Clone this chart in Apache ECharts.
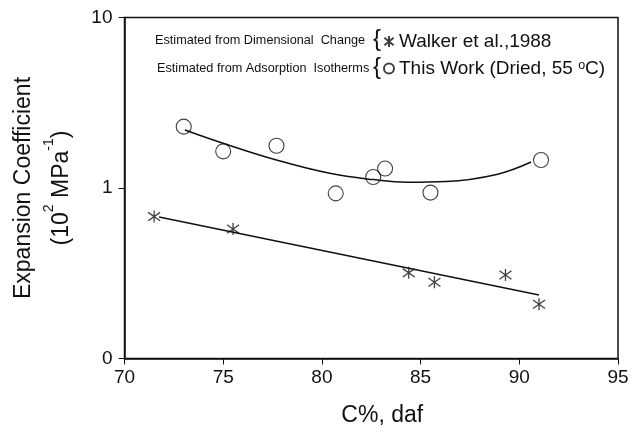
<!DOCTYPE html>
<html>
<head>
<meta charset="utf-8">
<script src="https://cdn.jsdelivr.net/npm/echarts@6/dist/echarts.min.js"></script>
<style>
  html, body { margin: 0; padding: 0; background: #fff; }
  #chart { width: 632px; height: 439px; }
</style>
</head>
<body>
<div id="chart"></div>
<script>
// Walker et al., 1988 (dimensional change)
const walkerC = [71.5, 75.5, 84.4, 85.7, 89.3, 91.0];
const walkerCoef = [0.68, 0.575, 0.318, 0.28, 0.309, 0.208];
// this work (adsorption isotherms)
const thisWorkC = [73.0, 75.0, 77.7, 80.7, 82.6, 83.2, 85.5, 91.1];
const thisWorkCoef = [2.29, 1.64, 1.77, 0.93, 1.16, 1.30, 0.94, 1.46];
// trend lines
const walkerFitC = [71.75, 91.0];
const walkerFitCoef = [0.676, 0.236];
const thisFitC = [73.06, 75.0, 77.7, 80.4, 82.6, 84.3, 86.3, 88.85, 90.6];
const thisFitCoef = [2.19, 1.83, 1.46, 1.22, 1.12, 1.08, 1.09, 1.20, 1.42];

const xTicks = [70, 75, 80, 85, 90, 95];

const zip = (a, b) => a.map((v, i) => [v, b[i]]);
const FONT = 'Liberation Sans';
const starPath = 'path://M6 0 L6 12 M1 1.8 L11 10.2 M1 10.2 L11 1.8';

const chart = echarts.init(document.getElementById('chart'));

const option = {
  backgroundColor: '#fff',
  textStyle: { fontFamily: FONT },
  grid: {
    left: 124.5,
    right: 14,
    top: 17.5,
    bottom: 80.5,
    outerBoundsMode: 'none',
    show: true,
    borderColor: '#111',
    borderWidth: 1.5
  },
  legend: {
    data: ['Walker et al.,1988', 'This Work (Dried, 55 oC)'],
    orient: 'vertical',
    left: 378,
    top: 27,
    itemGap: 8,
    itemWidth: 10,
    itemHeight: 11,
    formatter: function (name) {
      return name === 'This Work (Dried, 55 oC)' ? 'This Work (Dried, 55 {sup|o}C)' : name;
    },
    textStyle: {
      fontFamily: FONT,
      fontSize: 19,
      color: '#111',
      rich: {
        sup: { fontSize: 12.5, verticalAlign: 'top', fontFamily: FONT, color: '#111' }
      }
    }
  },
  graphic: [
    { type: 'text', left: 155, top: 34, style: { text: 'Estimated from Dimensional  Change', fontSize: 12.7, fontFamily: FONT, fill: '#111' } },
    { type: 'text', left: 157, top: 62, style: { text: 'Estimated from Adsorption  Isotherms', fontSize: 12.7, fontFamily: FONT, fill: '#111' } },
    { type: 'text', left: 373, top: 27, style: { text: '{', fontSize: 24, fontFamily: FONT, fill: '#111' } },
    { type: 'text', left: 373, top: 55, style: { text: '{', fontSize: 24, fontFamily: FONT, fill: '#111' } }
  ],
  xAxis: {
    type: 'value',
    min: 70,
    max: 95,
    interval: 5,
    name: 'C%, daf',
    nameLocation: 'middle',
    nameGap: 46,
    nameTextStyle: { fontSize: 23, color: '#111', fontFamily: FONT, padding: [0, 0, 0, 22] },
    axisLine: { lineStyle: { color: '#111', width: 1.5 } },
    axisTick: { inside: false, length: 6, lineStyle: { color: '#111', width: 1 } },
    axisLabel: {
      fontSize: 19,
      color: '#111',
      margin: 10,
      formatter: v => (xTicks.indexOf(v) >= 0 ? String(v) : '')
    },
    splitLine: { show: false }
  },
  yAxis: {
    type: 'log',
    logBase: 10,
    min: 0.1,
    max: 10,
    name: 'Expansion Coefficient\n(10{sup|2} MPa{sup|-1})',
    nameLocation: 'middle',
    nameRotate: 90,
    nameGap: 40,
    nameTextStyle: {
      fontSize: 23,
      color: '#111',
      fontFamily: FONT,
      lineHeight: 38,
      rich: {
        sup: { fontSize: 14, verticalAlign: 'top', fontFamily: FONT, color: '#111', lineHeight: 38 }
      }
    },
    axisLine: { show: true, lineStyle: { color: '#111', width: 1.5 } },
    axisTick: { show: true, inside: false, length: 6, lineStyle: { color: '#111', width: 1 } },
    minorTick: { show: false },
    axisLabel: {
      fontSize: 19,
      color: '#111',
      margin: 12,
      formatter: v => (v < 0.5 ? '0' : String(Math.round(v)))
    },
    splitLine: { show: false }
  },
  series: [
    {
      name: 'Walker et al.,1988',
      type: 'scatter',
      symbol: starPath,
      symbolSize: 12,
      itemStyle: { color: 'rgba(0,0,0,0)', borderColor: '#111', borderWidth: 1.3 },
      data: zip(walkerC, walkerCoef),
      z: 3
    },
    {
      name: 'This Work (Dried, 55 oC)',
      type: 'scatter',
      symbol: 'circle',
      symbolSize: 15,
      itemStyle: { color: 'rgba(0,0,0,0)', borderColor: '#111', borderWidth: 1.1 },
      data: zip(thisWorkC, thisWorkCoef),
      z: 3
    },
    {
      name: 'walker fit',
      type: 'line',
      showSymbol: false,
      silent: true,
      lineStyle: { color: '#111', width: 1.5 },
      data: zip(walkerFitC, walkerFitCoef),
      z: 2
    },
    {
      name: 'this work fit',
      type: 'line',
      showSymbol: false,
      smooth: 0.4,
      silent: true,
      lineStyle: { color: '#111', width: 1.5 },
      data: zip(thisFitC, thisFitCoef),
      z: 2
    }
  ]
};

chart.setOption(option);
</script>
</body>
</html>
